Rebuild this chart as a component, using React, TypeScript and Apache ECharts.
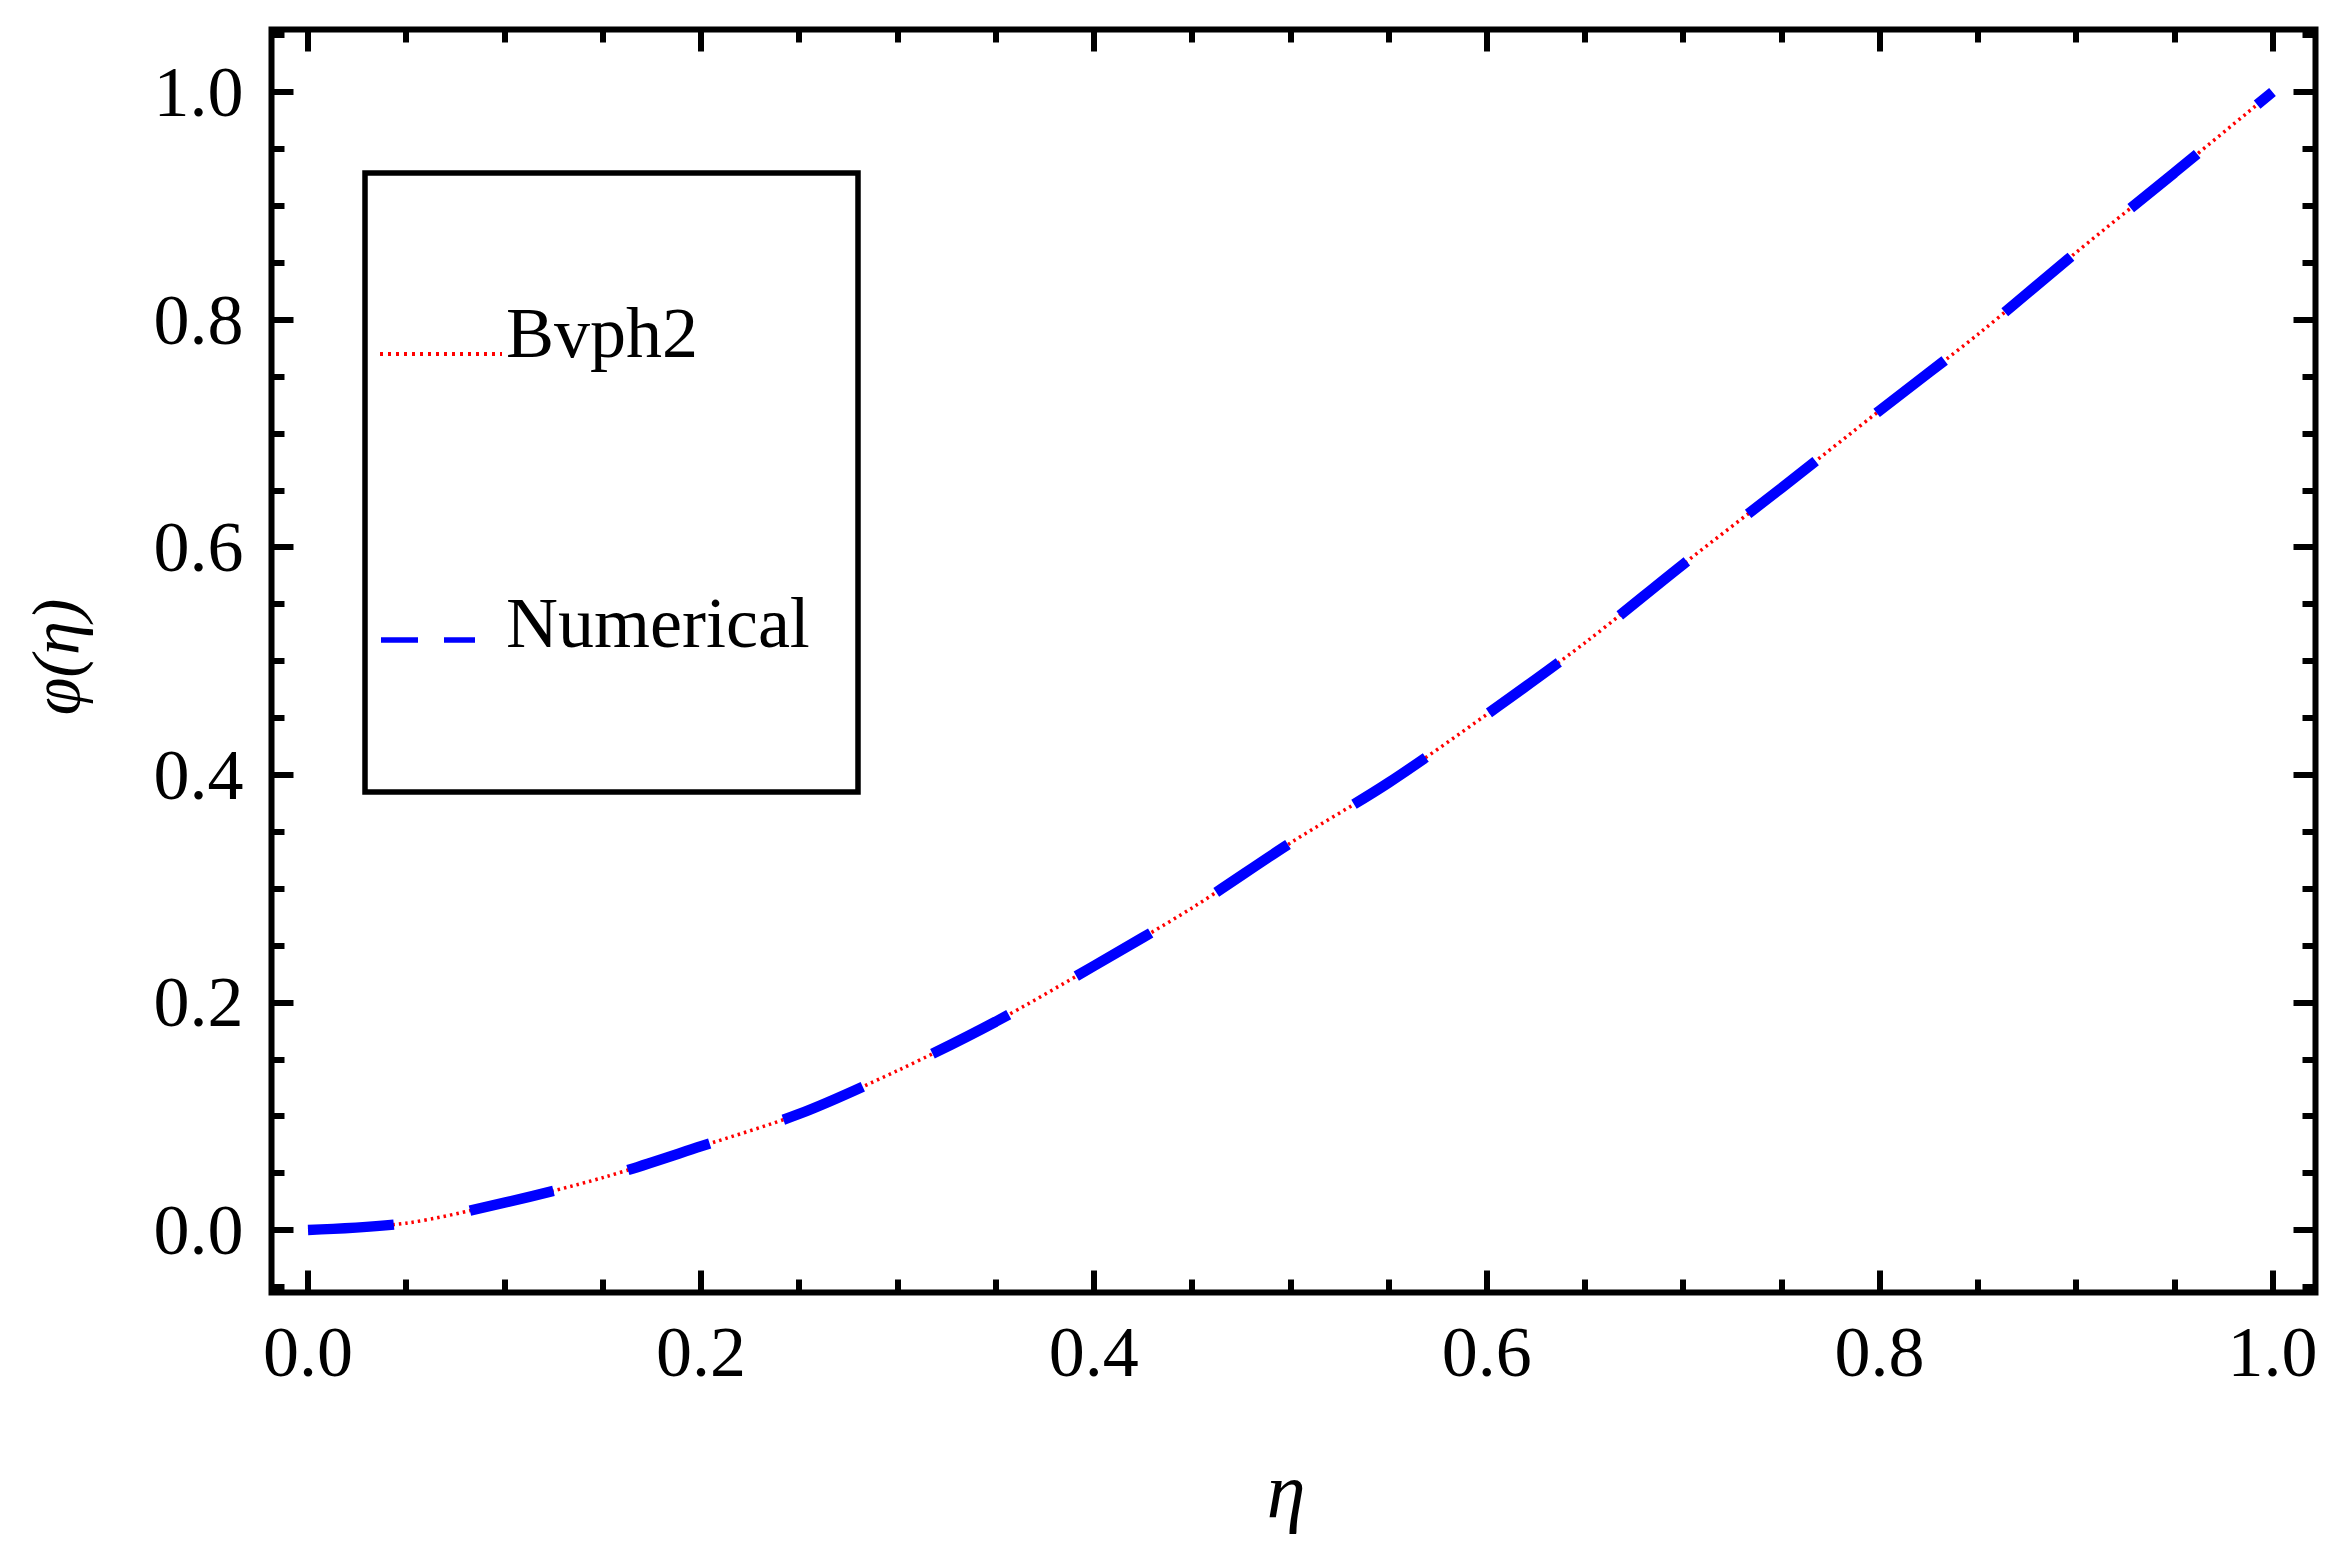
import React, { useEffect, useRef } from "react";
import * as echarts from "echarts";

const etaValues: number[] = [0, 0.05, 0.1, 0.15, 0.2, 0.25, 0.3, 0.35, 0.4, 0.45, 0.5, 0.55, 0.6, 0.65, 0.7, 0.75, 0.8, 0.85, 0.9, 0.95, 1.0];
const bvph2Values: number[] = [0, 0.006, 0.024, 0.046, 0.0735, 0.102, 0.14, 0.183, 0.232, 0.283, 0.34, 0.393, 0.453, 0.516, 0.585, 0.652, 0.72, 0.787, 0.859, 0.929, 1.0];
const numericalValues: number[] = [0, 0.006, 0.024, 0.046, 0.0735, 0.102, 0.14, 0.183, 0.232, 0.283, 0.34, 0.393, 0.453, 0.516, 0.585, 0.652, 0.72, 0.787, 0.859, 0.929, 1.0];
const seriesNames: string[] = ["Bvph2", "Numerical"];
const xTitle = "η";
const yTitle = "φ(η)";

const W = 2351;
const H = 1554;
const FONT = "Liberation Serif";

export default function App() {
  const ref = useRef<HTMLDivElement>(null);
  useEffect(() => {
    if (!ref.current) return;
    const chart = echarts.init(ref.current, null, { renderer: "svg", width: W, height: H });

    const frame = { l: 271.5, r: 2315.5, t: 29.5, b: 1292.5 };
    const gA = { left: 308, right: W - 2272.5, top: 92, bottom: H - 1230 };
    const pxPerY = (1230 - 92) / 1;
    const gB = { left: gA.left, right: gA.right, top: 92 - 0.05 * pxPerY, bottom: H - (1230 + 0.05 * pxPerY) };

    const tickMajor = { show: true, inside: true, length: 22, lineStyle: { color: "#000", width: 6 } };
    const tickMinor = { show: true, inside: true, length: 13, lineStyle: { color: "#000", width: 6 } };
    const labelStyle = { fontFamily: FONT, fontSize: 72, color: "#000", lineHeight: 72 };
    const noLine = { show: false, onZero: false };

    const xA = (pos: string, showLabel: boolean) => ({
      gridIndex: 0,
      type: "value",
      min: 0,
      max: 1,
      interval: 0.2,
      position: pos,
      offset: pos === "bottom" ? frame.b - (H - gA.bottom) : gA.top - frame.t,
      axisLine: noLine,
      axisTick: tickMajor,
      splitLine: { show: false },
      axisLabel: { show: showLabel, margin: 23, formatter: (v: number) => v.toFixed(1), ...labelStyle },
    });
    const xB = (pos: string) => ({
      gridIndex: 1,
      type: "value",
      min: 0,
      max: 1,
      interval: 0.05,
      position: pos,
      offset: pos === "bottom" ? frame.b - (H - gB.bottom) : gB.top - frame.t,
      axisLine: noLine,
      axisTick: tickMinor,
      splitLine: { show: false },
      axisLabel: { show: false },
    });
    const yA = (pos: string, showLabel: boolean) => ({
      gridIndex: 0,
      type: "value",
      min: 0,
      max: 1,
      interval: 0.2,
      position: pos,
      offset: pos === "left" ? gA.left - frame.l : frame.r - (W - gA.right),
      axisLine: noLine,
      axisTick: tickMajor,
      splitLine: { show: false },
      axisLabel: { show: showLabel, margin: 28, formatter: (v: number) => v.toFixed(1), ...labelStyle },
    });
    const yB = (pos: string) => ({
      gridIndex: 1,
      type: "value",
      min: -0.05,
      max: 1.05,
      interval: 0.05,
      position: pos,
      offset: pos === "left" ? gB.left - frame.l : frame.r - (W - gB.right),
      axisLine: noLine,
      axisTick: tickMinor,
      splitLine: { show: false },
      axisLabel: { show: false },
    });

    const option: any = {
      animation: false,
      backgroundColor: "#fff",
      grid: [
        { ...gA, containLabel: false },
        { ...gB, containLabel: false },
      ],
      xAxis: [xA("bottom", true), xA("top", false), xB("bottom"), xB("top")],
      yAxis: [yA("left", true), yA("right", false), yB("left"), yB("right")],
      series: [
        {
          name: seriesNames[0],
          type: "line",
          xAxisIndex: 0,
          yAxisIndex: 0,
          data: etaValues.map((e, i) => [e, bvph2Values[i]]),
          showSymbol: false,
          symbol: "none",
          smooth: 0.3,
          clip: false,
          lineStyle: { color: "#ff0000", width: 3.5, type: [2.5, 4] },
          z: 2,
        },
        {
          name: seriesNames[1],
          type: "line",
          xAxisIndex: 0,
          yAxisIndex: 0,
          data: etaValues.map((e, i) => [e, numericalValues[i]]),
          showSymbol: false,
          symbol: "none",
          smooth: 0.3,
          clip: false,
          lineStyle: { color: "#0000ff", width: 10.5, type: [86, 77.3], cap: "butt" },
          z: 3,
        },
      ],
      graphic: [
        {
          type: "rect",
          shape: { x: frame.l, y: frame.t, width: frame.r - frame.l, height: frame.b - frame.t },
          style: { fill: "none", stroke: "#000", lineWidth: 6 },
          z: 10,
        },
        {
          type: "rect",
          shape: { x: 365, y: 173, width: 858 - 365, height: 792 - 173 },
          style: { fill: "#fff", stroke: "#000", lineWidth: 5.5 },
          z: 10,
        },
        {
          type: "line",
          shape: { x1: 380, y1: 354, x2: 502, y2: 354 },
          style: { stroke: "#ff0000", lineWidth: 4, lineDash: [3, 5] },
          z: 11,
        },
        {
          type: "text",
          x: 506,
          y: 357 - 0.3375 * 72,
          style: { text: seriesNames[0], fontFamily: FONT, fontSize: 72, fill: "#000", align: "left", verticalAlign: "middle" },
          z: 11,
        },
        {
          type: "line",
          shape: { x1: 381, y1: 640, x2: 475, y2: 640 },
          style: { stroke: "#0000ff", lineWidth: 5.5, lineDash: [37, 26] },
          z: 11,
        },
        {
          type: "text",
          x: 506,
          y: 647 - 0.3375 * 72,
          style: { text: seriesNames[1], fontFamily: FONT, fontSize: 72, fill: "#000", align: "left", verticalAlign: "middle" },
          z: 11,
        },
        {
          type: "text",
          x: 1286,
          y: 1490,
          style: { text: xTitle, fontFamily: FONT, fontStyle: "italic", fontSize: 78, fill: "#000", align: "center", verticalAlign: "middle" },
          z: 11,
        },
        {
          type: "text",
          x: 56,
          y: 657,
          rotation: Math.PI / 2,
          style: { text: yTitle, fontFamily: FONT, fontStyle: "italic", fontSize: 68, fill: "#000", align: "center", verticalAlign: "middle" },
          z: 11,
        },
      ],
    };
    chart.setOption(option);
    return () => chart.dispose();
  }, []);
  return <div ref={ref} style={{ position: "absolute", left: 0, top: 0, width: W, height: H }} />;
}
